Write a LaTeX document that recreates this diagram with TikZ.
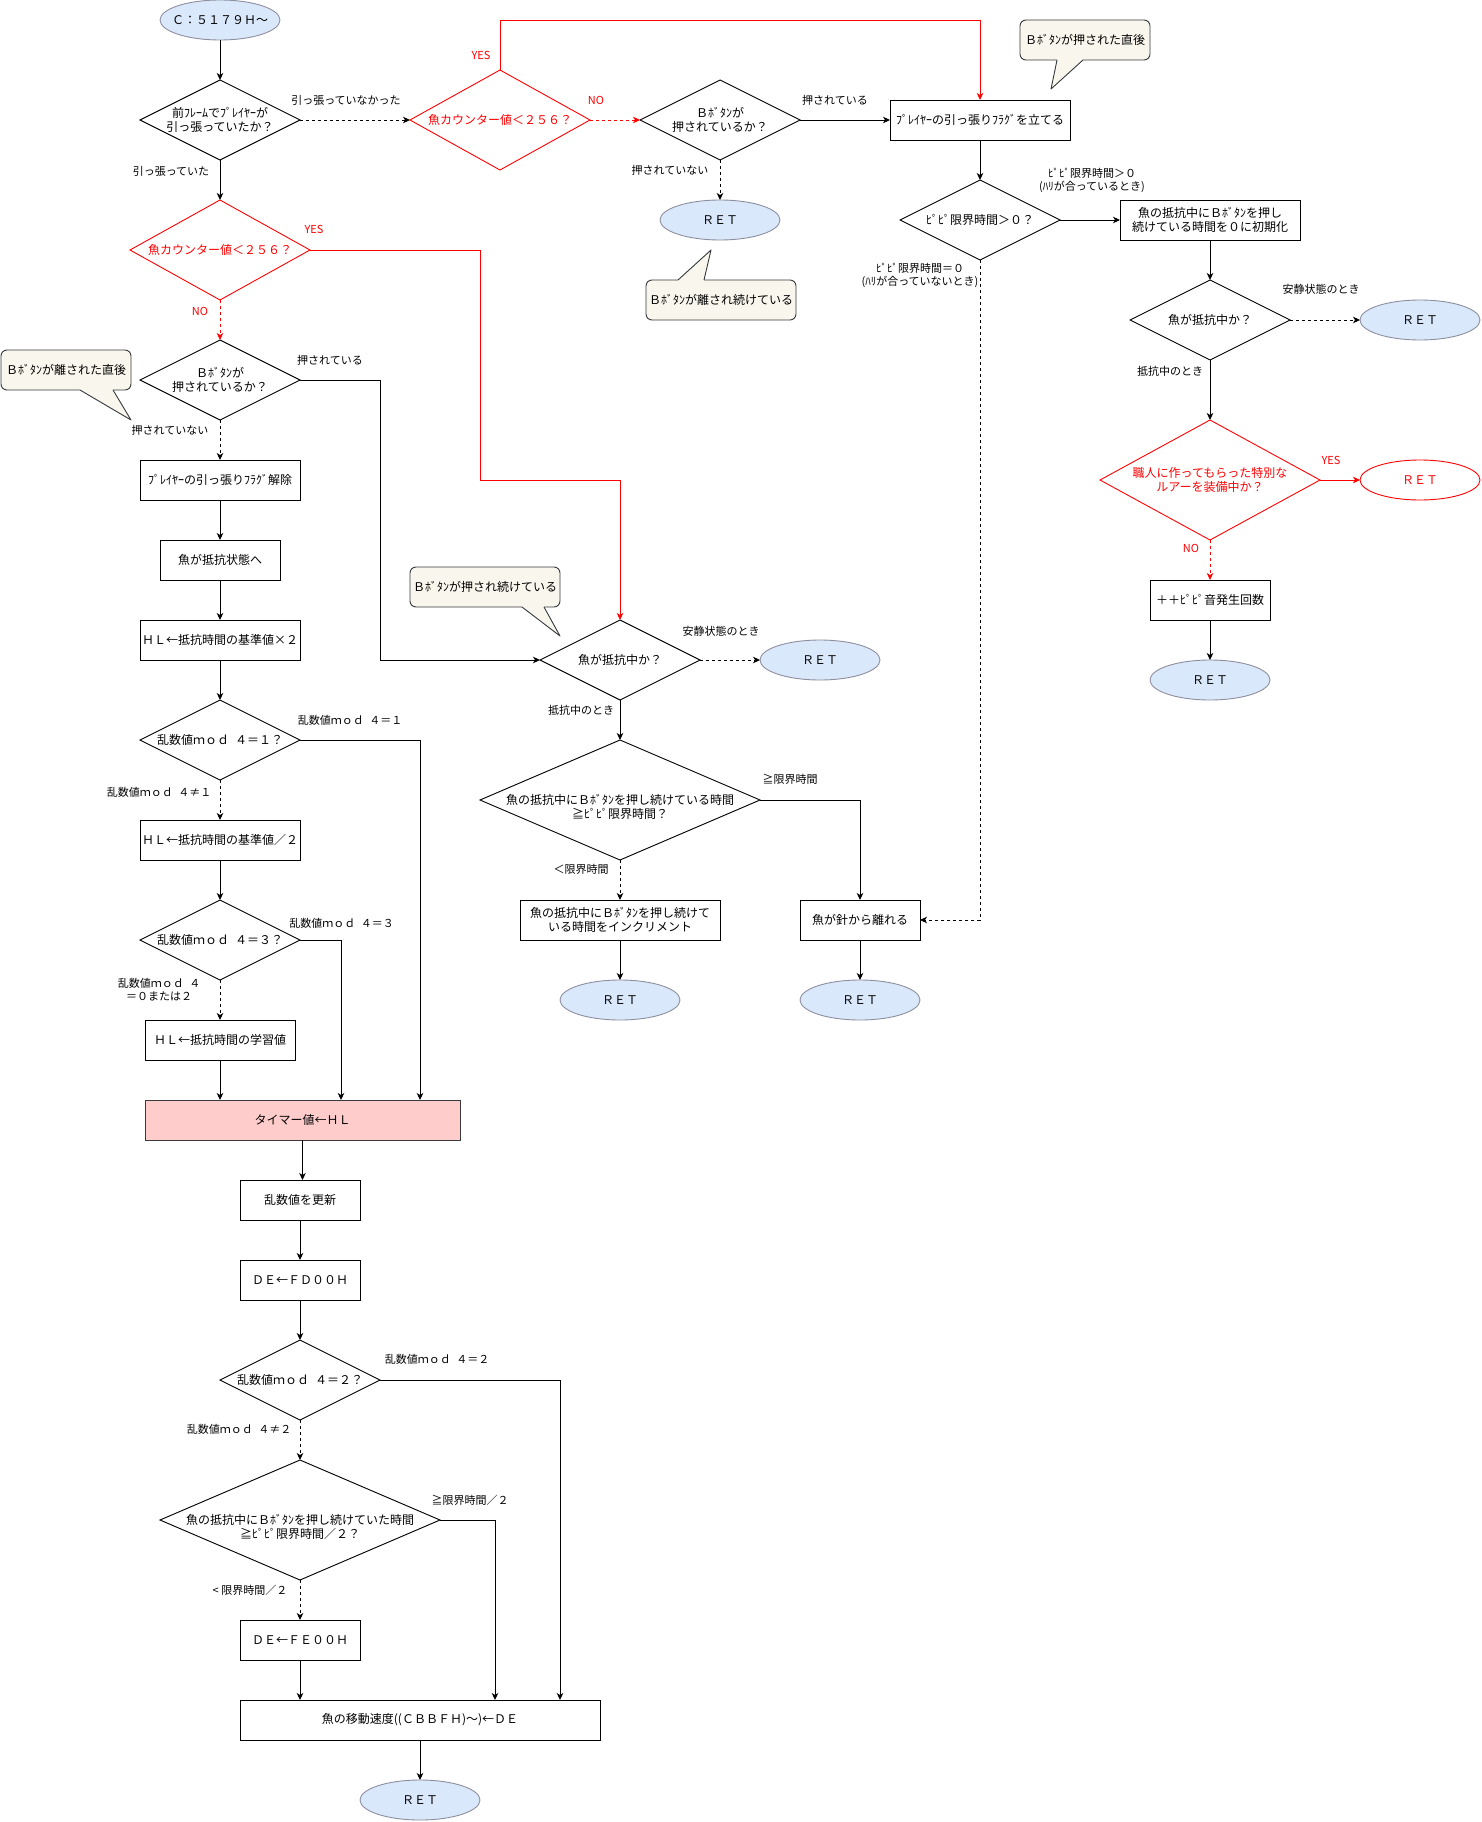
\documentclass[tikz,border=0pt]{standalone}
\usepackage{fontspec}
\setmainfont{Noto Sans CJK JP}
\usetikzlibrary{shapes.geometric,arrows.meta}
\definecolor{retfill}{HTML}{DAE8FC}
\definecolor{retdraw}{HTML}{8E8E9E}
\definecolor{cofill}{HTML}{F9F7ED}
\definecolor{codraw}{HTML}{36393D}
\definecolor{pinkfill}{HTML}{FFCCCC}
\definecolor{fred}{HTML}{FF0000}
\begin{document}
\begin{tikzpicture}[x=1pt,y=-1pt,
  every node/.style={font=\fontsize{12}{14.5}\selectfont, inner sep=0pt, outer sep=0pt},
  ln/.style={line width=0.9pt, draw=black},
  arr/.style={ln, -{Stealth[length=7pt,width=6.5pt,inset=2pt]}},
  dsh/.style={dash pattern=on 3pt off 3pt},
  redl/.style={draw=fred, fill=none},
  boxn/.style={draw, line width=0.9pt, rectangle, minimum height=40pt, align=center},
  dia/.style={draw, line width=0.9pt, diamond, minimum width=160pt, minimum height=80pt},
  rdia/.style={dia, draw=fred},
  retn/.style={ellipse, draw=retdraw, fill=retfill, line width=0.9pt, minimum width=120pt, minimum height=40pt},
  dtext/.style={align=center},
  rdtext/.style={align=center, text=fred},
  lbl/.style={font=\fontsize{11}{13}\selectfont, align=center},
  rlbl/.style={lbl, text=fred},
  cobox/.style={draw=codraw, fill=cofill, rounded corners=6pt, line width=0.9pt, minimum height=40pt, align=center},
  cofillst/.style={fill=cofill},
  coline/.style={draw=codraw, line width=0.9pt, line join=round}
]
\useasboundingbox (0,0) rectangle (1481,1822);

% ---------- top row ----------
\node[retn, label={[dtext]center:{Ｃ：５１７９Ｈ～}}] (start) at (220,20) {};
\node[dia, label={[dtext]center:{前ﾌﾚｰﾑでﾌﾟﾚｲﾔｰが\\引っ張っていたか？}}] (d1) at (220,120) {};
\node[rdia, minimum width=180pt, minimum height=100pt, label={[rdtext]center:{魚カウンター値＜２５６？}}] (d2) at (220,250) {};
\node[rdia, minimum width=180pt, minimum height=100pt, label={[rdtext]center:{魚カウンター値＜２５６？}}] (d3) at (500,120) {};
\node[dia, label={[dtext]center:{Ｂﾎﾞﾀﾝが\\押されているか？}}] (d4) at (720,120) {};
\node[retn] (ret1) at (720,220) {ＲＥＴ};
\node[boxn, minimum width=180pt] (b1) at (980,120) {ﾌﾟﾚｲﾔｰの引っ張りﾌﾗｸﾞを立てる};
\node[dia, label={[dtext]center:{ﾋﾟﾋﾟ限界時間＞０？}}] (d5) at (980,220) {};
\node[boxn, minimum width=180pt] (b2) at (1210,220) {魚の抵抗中にＢﾎﾞﾀﾝを押し\\続けている時間を０に初期化};
\node[dia, label={[dtext]center:{魚が抵抗中か？}}] (d6) at (1210,320) {};
\node[retn] (ret2) at (1420,320) {ＲＥＴ};
\node[rdia, minimum width=220pt, minimum height=120pt, label={[rdtext]center:{職人に作ってもらった特別な\\ルアーを装備中か？}}] (d7) at (1210,480) {};
\node[retn, draw=fred, fill=white, text=fred] (ret3) at (1420,480) {ＲＥＴ};
\node[boxn, minimum width=120pt] (b3) at (1210,600) {＋＋ﾋﾟﾋﾟ音発生回数};
\node[retn] (ret4) at (1210,680) {ＲＥＴ};

% ---------- left column ----------
\node[dia, label={[dtext]center:{Ｂﾎﾞﾀﾝが\\押されているか？}}] (d8) at (220,380) {};
\node[boxn, minimum width=160pt] (b4) at (220,480) {ﾌﾟﾚｲﾔｰの引っ張りﾌﾗｸﾞ解除};
\node[boxn, minimum width=120pt] (b5) at (220,560) {魚が抵抗状態へ};
\node[boxn, minimum width=160pt] (b6) at (220,640) {ＨＬ←抵抗時間の基準値×２};
\node[dia, label={[dtext]center:{乱数値ｍｏｄ\hspace{.5em}４＝１？}}] (d9) at (220,740) {};
\node[boxn, minimum width=160pt] (b7) at (220,840) {ＨＬ←抵抗時間の基準値／２};
\node[dia, label={[dtext]center:{乱数値ｍｏｄ\hspace{.5em}４＝３？}}] (d10) at (220,940) {};
\node[boxn, minimum width=150pt] (b8) at (220,1040) {ＨＬ←抵抗時間の学習値};
\node[boxn, minimum width=315pt, fill=pinkfill, draw=codraw] (b9) at (302.5,1120) {タイマー値←ＨＬ};
\node[boxn, minimum width=120pt] (b10) at (300,1200) {乱数値を更新};
\node[boxn, minimum width=120pt] (b11) at (300,1280) {ＤＥ←ＦＤ００Ｈ};
\node[dia, label={[dtext]center:{乱数値ｍｏｄ\hspace{.5em}４＝２？}}] (d11) at (300,1380) {};
\node[dia, minimum width=280pt, minimum height=120pt, label={[dtext,yshift=-7pt]center:{魚の抵抗中にＢﾎﾞﾀﾝを押し続けていた時間\\≧ﾋﾟﾋﾟ限界時間／２？}}] (d12) at (300,1520) {};
\node[boxn, minimum width=120pt] (b12) at (300,1640) {ＤＥ←ＦＥ００Ｈ};
\node[boxn, minimum width=360pt] (b13) at (420,1720) {魚の移動速度((ＣＢＢＦＨ)～)←ＤＥ};
\node[retn] (ret5) at (420,1800) {ＲＥＴ};

% ---------- middle column ----------
\node[dia, label={[dtext]center:{魚が抵抗中か？}}] (d13) at (620,660) {};
\node[retn] (ret6) at (820,660) {ＲＥＴ};
\node[dia, minimum width=280pt, minimum height=120pt, label={[dtext,yshift=-7pt]center:{魚の抵抗中にＢﾎﾞﾀﾝを押し続けている時間\\≧ﾋﾟﾋﾟ限界時間？}}] (d14) at (620,800) {};
\node[boxn, minimum width=200pt] (b14) at (620,920) {魚の抵抗中にＢﾎﾞﾀﾝを押し続けて\\いる時間をインクリメント};
\node[boxn, minimum width=120pt] (b15) at (860,920) {魚が針から離れる};
\node[retn] (ret7) at (620,1000) {ＲＥＴ};
\node[retn] (ret8) at (860,1000) {ＲＥＴ};

% ---------- helper coordinates ----------
\coordinate (r1) at (480,480);
\coordinate (c2) at (380,660);
\coordinate (c3) at (420,1100);
\coordinate (c4) at (341,1100);
\coordinate (c5) at (560,1700);
\coordinate (c6) at (495,1700);

% ---------- connectors ----------
\draw[arr] (start) -- (d1);
\draw[arr] (d1) -- (d2);
\draw[arr,dsh] (d1.east) -- (d3.west);
\draw[arr,redl] (d3.north) -- ++(0,-50) -| (b1.north);
\draw[arr,redl,dsh] (d3.east) -- (d4.west);
\draw[arr] (d4.east) -- (b1.west);
\draw[arr,dsh] (d4.south) -- (ret1.north);
\draw[arr] (b1.south) -- (d5.north);
\draw[arr] (d5.east) -- (b2.west);
\draw[arr,dsh] (d5.south) |- (b15.east);
\draw[arr] (b2.south) -- (d6.north);
\draw[arr,dsh] (d6.east) -- (ret2.west);
\draw[arr] (d6.south) -- (d7.north);
\draw[arr,redl] (d7.east) -- (ret3.west);
\draw[arr,redl,dsh] (d7.south) -- (b3.north);
\draw[arr] (b3.south) -- (ret4.north);

\draw[arr,redl] (d2.east) -| (r1) -| (d13.north);
\draw[arr,redl,dsh] (d2.south) -- (d8.north);
\draw[arr] (d8.east) -| (c2) -- (d13.west);
\draw[arr,dsh] (d8.south) -- (b4.north);
\draw[arr] (b4) -- (b5);
\draw[arr] (b5) -- (b6);
\draw[arr] (b6) -- (d9);
\draw[arr] (d9.east) -| (c3);
\draw[arr,dsh] (d9.south) -- (b7.north);
\draw[arr] (b7) -- (d10);
\draw[arr] (d10.east) -| (c4);
\draw[arr,dsh] (d10.south) -- (b8.north);
\draw[arr] (b8.south) -- (b8.south |- b9.north);
\draw[arr] (b9.south) -- (b9.south |- b10.north);
\draw[arr] (b10) -- (b11);
\draw[arr] (b11) -- (d11);
\draw[arr] (d11.east) -| (c5);
\draw[arr,dsh] (d11.south) -- (d12.north);
\draw[arr] (d12.east) -| (c6);
\draw[arr,dsh] (d12.south) -- (b12.north);
\draw[arr] (b12.south) -- (b12.south |- b13.north);
\draw[arr] (b13.south) -- (ret5.north);

\draw[arr,dsh] (d13.east) -- (ret6.west);
\draw[arr] (d13.south) -- (d14.north);
\draw[arr] (d14.east) -| (b15.north);
\draw[arr,dsh] (d14.south) -- (b14.north);
\draw[arr] (b14) -- (ret7);
\draw[arr] (b15) -- (ret8);

% ---------- connector labels ----------
\node[lbl] (l1) at (346,100) {引っ張っていなかった};
\node[lbl] (l2) at (171,171) {引っ張っていた};
\node[rlbl] (l3) at (481,55) {YES};
\node[rlbl] (l4) at (596,100) {NO};
\node[lbl] (l5) at (835,100) {押されている};
\node[lbl] (l6) at (670,170) {押されていない};
\node[lbl] (l7) at (1092,180) {ﾋﾟﾋﾟ限界時間＞０\\(ﾊﾘが合っているとき)};
\node[lbl] (l8) at (920,275) {ﾋﾟﾋﾟ限界時間＝０\\(ﾊﾘが合っていないとき)};
\node[lbl] (l9) at (1321,289) {安静状態のとき};
\node[lbl] (l10) at (1170,371) {抵抗中のとき};
\node[rlbl] (l11) at (1331,460) {YES};
\node[rlbl] (l12) at (1191,548) {NO};
\node[rlbl] (l13) at (314,229) {YES};
\node[rlbl] (l14) at (200,311) {NO};
\node[lbl] (l15) at (330,360) {押されている};
\node[lbl] (l16) at (170,430) {押されていない};
\node[lbl] (l17) at (721,631) {安静状態のとき};
\node[lbl] (l18) at (581,710) {抵抗中のとき};
\node[lbl] (l19) at (790,779) {≧限界時間};
\node[lbl] (l20) at (581,869) {＜限界時間};
\node[lbl] (l21) at (350,720) {乱数値ｍｏｄ\hspace{.5em}４＝１};
\node[lbl] (l22) at (159,792) {乱数値ｍｏｄ\hspace{.5em}４≠１};
\node[lbl] (l23) at (341.5,923.5) {乱数値ｍｏｄ\hspace{.5em}４＝３};
\node[lbl] (l24) at (159,990) {乱数値ｍｏｄ\hspace{.5em}４\\＝０または２};
\node[lbl] (l25) at (437,1359) {乱数値ｍｏｄ\hspace{.5em}４＝２};
\node[lbl] (l26) at (239,1429) {乱数値ｍｏｄ\hspace{.5em}４≠２};
\node[lbl] (l27) at (470,1500) {≧限界時間／２};
\node[lbl] (l28) at (250,1590) {< 限界時間／２};

% ---------- callouts ----------
\node[cobox, minimum width=130pt] (co1) at (1085,40) {Ｂﾎﾞﾀﾝが押された直後};
\fill[cofillst] (1057,58) -- (1057,60) -- (1051,89) -- (1083,60) -- (1083,58) -- cycle;
\draw[coline] (1057,60) -- (1051,89) -- (1083,60);

\node[cobox, minimum width=150pt] (co2) at (721,300) {Ｂﾎﾞﾀﾝが離され続けている};
\fill[cofillst] (678,282) -- (678,280) -- (711,250) -- (704,280) -- (704,282) -- cycle;
\draw[coline] (678,280) -- (711,250) -- (704,280);

\node[cobox, minimum width=130pt] (co3) at (66,370) {Ｂﾎﾞﾀﾝが離された直後};
\fill[cofillst] (80,388) -- (80,390) -- (131,420) -- (113,390) -- (113,388) -- cycle;
\draw[coline] (80,390) -- (131,420) -- (113,390);

\node[cobox, minimum width=150pt] (co4) at (485,587) {Ｂﾎﾞﾀﾝが押され続けている};
\fill[cofillst] (522,605) -- (522,607) -- (560,636) -- (544,607) -- (544,605) -- cycle;
\draw[coline] (522,607) -- (560,636) -- (544,607);
\end{tikzpicture}
\end{document}
